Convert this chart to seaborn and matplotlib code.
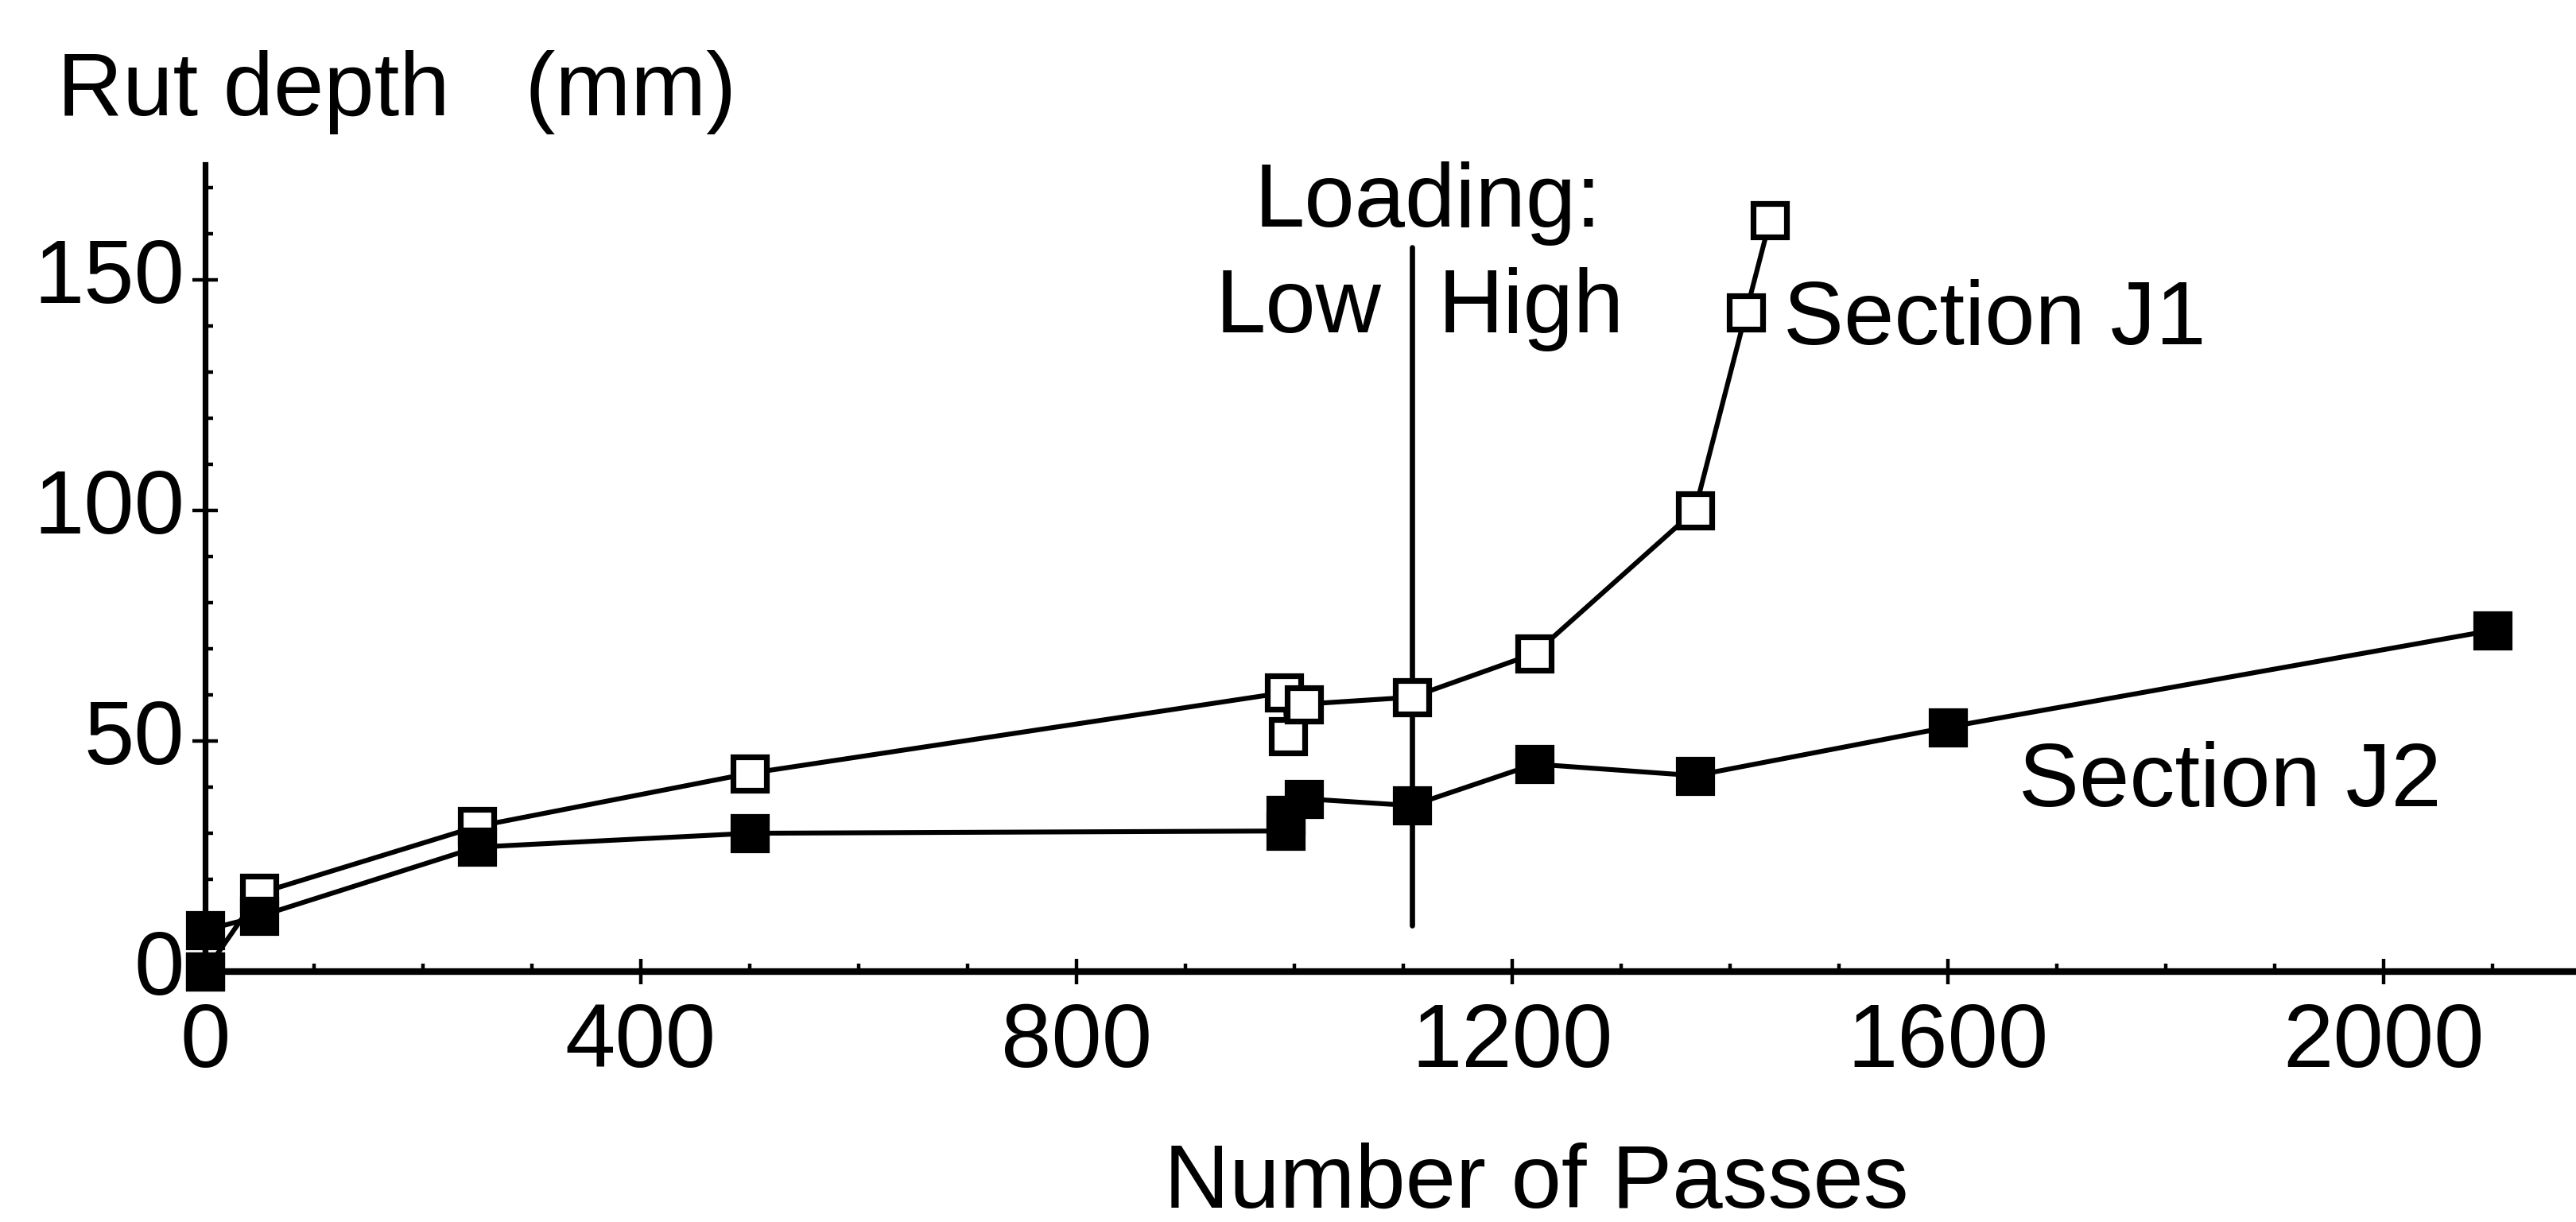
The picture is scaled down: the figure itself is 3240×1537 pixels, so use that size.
import numpy as np
import pandas as pd
import seaborn as sns
import matplotlib.pyplot as plt
import matplotlib.transforms as mtransforms
from matplotlib.ticker import MultipleLocator

# rut depth data
j1_passes = [0, 50, 250, 500, 991, 994, 1009, 1108, 1221, 1368, 1415, 1437]
j1_depth = [0, 17, 31.5, 43, 60.5, 51, 58, 59.5, 69, 100, 143, 163]
j2_passes = [0, 0, 50, 250, 500, 992, 992, 1009, 1108, 1221, 1368, 1600, 2100]
j2_depth = [0, 9, 12, 27, 30, 30.5, 34, 37.5, 36, 45, 42.5, 53, 74]

x_ticks = [0, 400, 800, 1200, 1600, 2000]
y_ticks = [0, 50, 100, 150]
loading_change = 1108

sns.set_style("ticks")
plt.rcParams['font.family'] = ['Liberation Sans', 'DejaVu Sans']
plt.rcParams['text.color'] = 'black'
fs = 41

df_j1 = pd.DataFrame({"passes": j1_passes, "depth": j1_depth})
df_j2 = pd.DataFrame({"passes": j2_passes, "depth": j2_depth})

fig = plt.figure(figsize=(16.2, 7.685), dpi=200)
ax = fig.add_axes([0.0796, 0.2049, 0.9204, 0.6604])

ax.axvline(loading_change, ymin=10 / 175, ymax=157 / 175, color="black", lw=2.4, zorder=1)

sns.lineplot(data=df_j1, x="passes", y="depth", sort=False, estimator=None, ax=ax,
             color="black", lw=2.2, marker="s", markersize=15,
             markerfacecolor="white", markeredgecolor="black", markeredgewidth=2.6,
             clip_on=False, zorder=3)
sns.lineplot(data=df_j2, x="passes", y="depth", sort=False, estimator=None, ax=ax,
             color="black", lw=2.2, marker="s", markersize=15,
             markerfacecolor="black", markeredgecolor="black", markeredgewidth=2.6,
             clip_on=False, zorder=4)

ax.set_xlim(0, 2177)
ax.set_ylim(0, 175)
sns.despine(ax=ax)
ax.spines["left"].set_linewidth(2.6)
ax.spines["bottom"].set_linewidth(3)
ax.spines["left"].set_color("black")
ax.spines["bottom"].set_color("black")

ax.set_xticks(x_ticks)
ax.set_yticks(y_ticks)
ax.xaxis.set_minor_locator(MultipleLocator(100))
ax.yaxis.set_minor_locator(MultipleLocator(10))
ax.tick_params(axis="both", which="major", direction="inout", length=11.5, width=1.6,
               labelsize=fs, color="black", labelcolor="black")
ax.tick_params(axis="x", which="major", pad=8)
ax.tick_params(axis="y", which="major", pad=3.5)
ax.tick_params(axis="both", which="minor", direction="in", length=3.5, width=1.6, color="black")
shift_up = mtransforms.ScaledTranslation(0, 4.5 / 72, fig.dpi_scale_trans)
for lab in ax.get_yticklabels():
    lab.set_transform(lab.get_transform() + shift_up)
ax.set_xlabel("")
ax.set_ylabel("")

ax.text(1123, 161.5, "Loading:", fontsize=fs, ha="center", va="baseline", color="black")
ax.text(1080, 138.6, "Low", fontsize=fs, ha="right", va="baseline", color="black")
ax.text(1132, 138.6, "High", fontsize=fs, ha="left", va="baseline", color="black")
ax.text(1449, 136, "Section J1", fontsize=fs, ha="left", va="baseline", color="black")
ax.text(1665, 35.8, "Section J2", fontsize=fs, ha="left", va="baseline", color="black")

fig.text(0.0222, 0.9057, "Rut depth   (mm)", fontsize=fs, ha="left", va="baseline", color="black")
fig.text(0.5963, 0.0117, "Number of Passes", fontsize=fs, ha="center", va="baseline", color="black")

fig.savefig("out.png", dpi=200, facecolor="white")
